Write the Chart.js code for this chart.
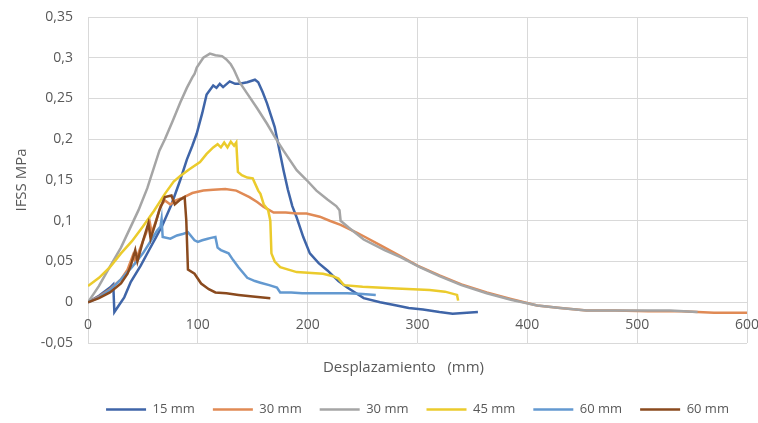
<!DOCTYPE html>
<html>
<head>
<meta charset="utf-8">
<script src="https://cdn.jsdelivr.net/npm/chart.js@4"></script>
<style>
  html, body { margin: 0; padding: 0; background: #fff; }
  #caixa { width: 758px; height: 423px; }
</style>
</head>
<body>
<div id="caixa"><canvas id="graficoIFSS"></canvas></div>
<script>
// nomes das séries (legenda) e textos dos eixos
const series = ['15 mm', '30 mm', '30 mm', '45 mm', '60 mm', '60 mm'];
const tituloEixoX = 'Desplazamiento   (mm)';
const tituloEixoY = 'IFSS MPa';
const ticksX = [0, 100, 200, 300, 400, 500, 600];
const ticksY = [-0.05, 0, 0.05, 0.1, 0.15, 0.2, 0.25, 0.3, 0.35];

// 15 mm
const x15 = [0, 10, 20, 23, 24, 33, 39, 48, 56, 62, 68, 76, 84, 90, 95, 99, 104, 108, 114, 117, 120, 123, 129, 134, 138, 145, 152, 155, 159, 163, 170, 175, 178, 182, 186, 190, 196, 202, 210, 218, 228, 236, 251, 266, 281, 292, 305, 320, 332, 345, 355];
const y15 = [0, 0.008, 0.018, 0.022, -0.012, 0.006, 0.025, 0.045, 0.065, 0.08, 0.095, 0.12, 0.15, 0.175, 0.192, 0.207, 0.232, 0.255, 0.266, 0.263, 0.268, 0.264, 0.271, 0.268, 0.268, 0.27, 0.273, 0.27, 0.258, 0.244, 0.215, 0.182, 0.162, 0.138, 0.118, 0.104, 0.08, 0.06, 0.048, 0.039, 0.026, 0.018, 0.005, 0.0, -0.004, -0.007, -0.009, -0.012, -0.014, -0.013, -0.012];

// 30 mm (laranja)
const x30a = [0, 10, 20, 30, 36, 41, 43, 48, 53, 56, 58, 62, 66, 70, 75, 80, 86, 95, 105, 114, 125, 135, 147, 154, 160, 169, 180, 190, 199, 211, 220, 230, 245, 251, 266, 284, 300, 320, 340, 363, 385, 409, 430, 454, 480, 510, 540, 570, 600];
const y30a = [0, 0.007, 0.016, 0.028, 0.04, 0.058, 0.05, 0.068, 0.085, 0.1, 0.085, 0.1, 0.118, 0.125, 0.12, 0.125, 0.128, 0.134, 0.137, 0.138, 0.139, 0.137, 0.129, 0.123, 0.117, 0.11, 0.11, 0.109, 0.109, 0.105, 0.1, 0.095, 0.085, 0.081, 0.07, 0.057, 0.045, 0.033, 0.022, 0.012, 0.004, -0.004, -0.007, -0.01, -0.01, -0.011, -0.011, -0.013, -0.013];

// 30 mm (cinza)
const x30b = [0, 5, 10, 18, 30, 38, 46, 54, 65, 70, 77, 84, 90, 95, 97, 99, 105, 111, 116, 122, 126, 130, 133, 138, 145, 154, 163, 170, 178, 190, 199, 208, 218, 226, 229, 230, 237, 251, 270, 285, 302, 320, 340, 363, 385, 409, 430, 454, 480, 510, 530, 555];
const y30b = [0, 0.01, 0.02, 0.039, 0.067, 0.09, 0.113, 0.14, 0.186, 0.2, 0.222, 0.245, 0.263, 0.276, 0.28, 0.288, 0.3, 0.305, 0.303, 0.302, 0.298, 0.292, 0.285, 0.27, 0.256, 0.238, 0.219, 0.203, 0.186, 0.162, 0.15, 0.137, 0.126, 0.118, 0.113, 0.1, 0.092, 0.077, 0.064, 0.055, 0.043, 0.032, 0.021, 0.011, 0.003, -0.004, -0.007, -0.01, -0.01, -0.01, -0.01, -0.012];

// 45 mm
const x45 = [0, 10, 20, 30, 40, 50, 60, 70, 78, 84, 92, 102, 108, 114, 118, 121, 124, 127, 130, 133, 135, 136.5, 140, 145, 150, 155, 157, 160, 164, 166, 167, 170, 175, 190, 214, 223, 228, 233, 250, 281, 311, 325, 336, 337];
const y45 = [0.02, 0.03, 0.043, 0.06, 0.075, 0.093, 0.112, 0.133, 0.148, 0.155, 0.163, 0.172, 0.182, 0.19, 0.194, 0.19, 0.196, 0.19, 0.197, 0.192, 0.196, 0.16, 0.156, 0.153, 0.152, 0.137, 0.133, 0.12, 0.113, 0.1, 0.06, 0.05, 0.043, 0.037, 0.035, 0.032, 0.029, 0.021, 0.019, 0.017, 0.015, 0.013, 0.009, 0.002];

// 60 mm (azul claro)
const x60a = [0, 10, 20, 30, 40, 50, 58, 63, 66, 67, 68, 75, 81, 87, 91, 97, 100, 104, 109, 112, 116, 118, 121, 128, 132, 137, 145, 152, 157, 165, 172, 175, 185, 195, 205, 220, 236, 250, 262];
const y60a = [0, 0.006, 0.015, 0.028, 0.043, 0.06, 0.077, 0.088, 0.093, 0.102, 0.08, 0.078, 0.082, 0.084, 0.086, 0.076, 0.074, 0.076, 0.078, 0.079, 0.08, 0.067, 0.064, 0.06, 0.052, 0.043, 0.03, 0.026, 0.024, 0.021, 0.018, 0.012, 0.012, 0.011, 0.011, 0.011, 0.011, 0.01, 0.009];

// 60 mm (marrom)
const x60b = [0, 10, 20, 30, 36, 39, 43, 45, 50, 55, 57, 61, 65, 70, 76, 79, 84, 88, 89.5, 91, 97, 103, 110, 116, 126, 137, 150, 166];
const y60b = [0, 0.005, 0.012, 0.023, 0.035, 0.045, 0.064, 0.05, 0.075, 0.097, 0.078, 0.095, 0.113, 0.129, 0.131, 0.12, 0.126, 0.129, 0.1, 0.04, 0.035, 0.023, 0.016, 0.012, 0.011, 0.009, 0.007, 0.005];

const cores = ['#3f65a8', '#e08a55', '#a5a5a5', '#ebcb2c', '#6399d0', '#8a4a1e'];

function pontos(xs, ys) {
    return xs.map((x, i) => ({ x: x, y: ys[i] }));
}

function formatarNumero(v) {
    return String(parseFloat(v.toFixed(2))).replace('.', ',');
}

const listaX = [x15, x30a, x30b, x45, x60a, x60b];
const listaY = [y15, y30a, y30b, y45, y60a, y60b];

const datasets = series.map((nome, i) => ({
    label: nome,
    data: pontos(listaX[i], listaY[i]),
    borderColor: cores[i],
    backgroundColor: cores[i],
    borderWidth: 2.5,
    pointRadius: 0,
    tension: 0,
    order: series.length - i // séries seguintes por cima, como no Excel
}));

// título do eixo X desenhado à mão (fica um pouco à esquerda do centro)
const tituloX = {
    id: 'tituloX',
    afterDraw(chart) {
        const ctx = chart.ctx;
        const area = chart.chartArea;
        ctx.save();
        ctx.font = '15px "Open Sans"';
        ctx.fillStyle = '#595959';
        ctx.textAlign = 'center';
        ctx.textBaseline = 'middle';
        ctx.fillText(tituloEixoX, (area.left + area.right) / 2 - 14, area.bottom + 25);
        ctx.restore();
    }
};

// tira o espaço extra que os rótulos pedem nas bordas
function semPadding(s) {
    s.paddingTop = 0;
    s.paddingBottom = 0;
    s.paddingLeft = 0;
    s.paddingRight = 0;
}

Chart.defaults.font.family = '"Open Sans", sans-serif';
Chart.defaults.color = '#595959';

const ctx = document.getElementById('graficoIFSS').getContext('2d');
const grafico = new Chart(ctx, {
    type: 'line',
    data: { datasets: datasets },
    options: {
        responsive: true,
        maintainAspectRatio: false,
        animation: false,
        layout: { padding: { left: 9, right: 11, top: 17, bottom: -3 } },
        plugins: {
            tooltip: { enabled: false },
            legend: {
                position: 'bottom',
                fullSize: false,
                labels: {
                    usePointStyle: true,
                    pointStyle: 'line',
                    pointStyleWidth: 40,
                    padding: 18,
                    font: { size: 13 },
                    color: '#595959',
                    sort: (a, b) => a.datasetIndex - b.datasetIndex
                }
            }
        },
        scales: {
            x: {
                type: 'linear',
                position: { y: 0 },
                min: 0,
                max: 600,
                afterBuildTicks: (s) => { s.ticks = ticksX.map(v => ({ value: v })); },
                afterFit: semPadding,
                ticks: { font: { size: 14 }, padding: 14, color: '#595959' },
                grid: { color: '#d9d9d9', drawTicks: false },
                border: { display: false }
            },
            espaco: {
                type: 'linear',
                axis: 'x',
                position: 'bottom',
                ticks: { display: false },
                grid: { display: false },
                border: { display: false },
                afterFit: (s) => { s.height = 42; semPadding(s); }
            },
            y: {
                min: -0.05,
                max: 0.35,
                afterBuildTicks: (s) => { s.ticks = ticksY.map(v => ({ value: v })); },
                ticks: { font: { size: 14 }, padding: 15, color: '#595959', callback: (v) => formatarNumero(v) },
                grid: { color: '#d9d9d9', drawTicks: false },
                border: { display: false },
                title: { display: true, text: tituloEixoY, font: { size: 15 }, color: '#595959', padding: { top: 4, bottom: 10 } },
                afterFit: (s) => { s.width = 79; semPadding(s); }
            }
        }
    },
    plugins: [tituloX]
});
</script>
</body>
</html>
